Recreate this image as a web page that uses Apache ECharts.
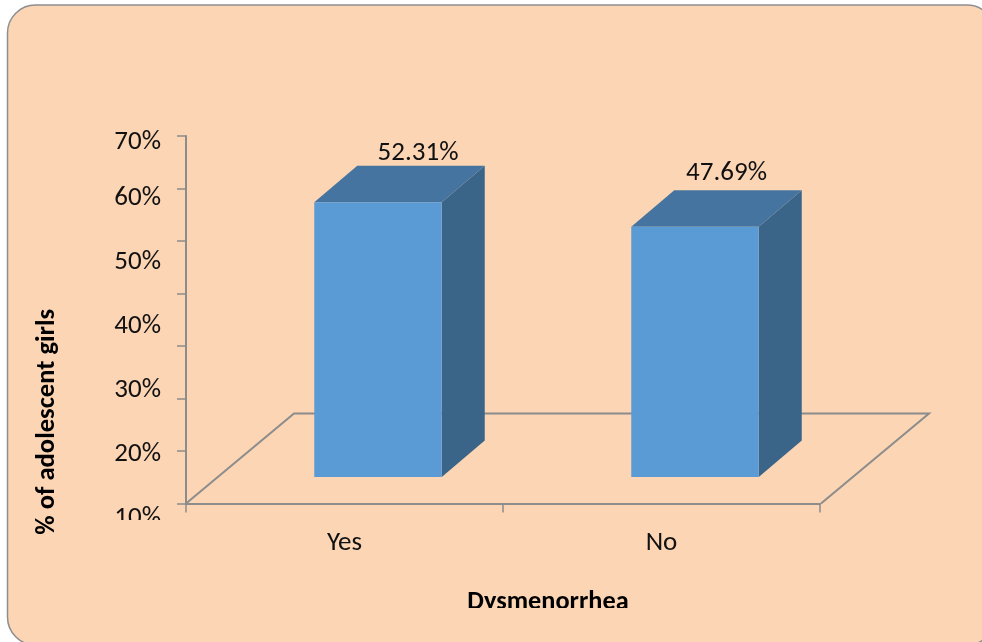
<!DOCTYPE html>
<html>
<head>
<meta charset="utf-8">
<style>html,body{margin:0;padding:0;background:#fff}#chart{width:982px;height:642px}</style>
<script src="https://cdn.jsdelivr.net/npm/echarts@6/dist/echarts.min.js"></script>
</head>
<body>
<div id="chart"></div>
<script>
// Prevalence of dysmenorrhea among adolescent girls
const categories = ['Yes', 'No'];
const percentages = [52.31, 47.69];
const tickLabels = [10, 20, 30, 40, 50, 60, 70];

const FONT = 'Carlito, Lato, "Open Sans", sans-serif';
const PANEL = '#FCD5B5';
const AXIS_GREY = '#8C8C8C';
const TEXT_SIZE = 27;

// Oblique projection of the 3D floor and of each bar
const FLOOR_DX = 108, FLOOR_DY = 90;
const BAR_SHIFT_X = 33.5, BAR_SHIFT_Y = 26.5;
const BAR_W = 127.5, BAR_DX = 43, BAR_DY = 36.5;
// Value labels sit above the top face of each bar
const LABEL_DX = [40, 31.5], LABEL_DY = [49.5, 53];

function renderFloor(params, api) {
  const cs = params.coordSys;
  const l = cs.x, r = cs.x + cs.width, b = cs.y + cs.height;
  return {
    type: 'polyline',
    z2: 0,
    shape: { points: [[l, b], [l + FLOOR_DX, b - FLOOR_DY], [r + FLOOR_DX + 1, b - FLOOR_DY], [r + 1, b]] },
    style: { fill: null, stroke: AXIS_GREY, lineWidth: 2 }
  };
}

function renderBar(params, api) {
  const i = params.dataIndex;
  const top = api.coord([api.value(0), api.value(1)]);
  const base = api.coord([api.value(0), 0]);
  const x0 = top[0] + BAR_SHIFT_X - BAR_W / 2, x1 = x0 + BAR_W;
  const yT = top[1] - BAR_SHIFT_Y, yB = base[1] - BAR_SHIFT_Y;
  return {
    type: 'group',
    children: [
      { type: 'polygon', shape: { points: [[x1, yT], [x1 + BAR_DX, yT - BAR_DY], [x1 + BAR_DX, yB - BAR_DY], [x1, yB]] },
        style: { fill: '#3A6488' } },
      { type: 'polygon', shape: { points: [[x0, yT], [x0 + BAR_DX, yT - BAR_DY], [x1 + BAR_DX, yT - BAR_DY], [x1, yT]] },
        style: { fill: '#4674A0' } },
      { type: 'rect', shape: { x: x0, y: yT, width: BAR_W, height: yB - yT },
        style: { fill: '#5B9BD5' } },
      { type: 'text', x: x0 + BAR_W / 2 + LABEL_DX[i], y: yT - LABEL_DY[i],
        style: { text: api.value(1).toFixed(2) + '%', fill: '#111', font: TEXT_SIZE + 'px ' + FONT, align: 'center', verticalAlign: 'middle' } }
    ]
  };
}

const chart = echarts.init(document.getElementById('chart'), null, { renderer: 'canvas' });
chart.setOption({
  animation: false,
  backgroundColor: '#fff',
  textStyle: { fontFamily: FONT },
  graphic: [
    { type: 'rect', z: -10, silent: true,
      shape: { x: 7.5, y: 5, width: 987.5, height: 640, r: 28 },
      style: { fill: PANEL, stroke: '#8E8E8E', lineWidth: 1.5 } },
    // the bottom tick label and the axis title are cut off by their text boxes
    { type: 'rect', z: 100, silent: true, shape: { x: 100, y: 520, width: 76, height: 14 }, style: { fill: PANEL } },
    { type: 'rect', z: 100, silent: true, shape: { x: 450, y: 608, width: 200, height: 14 }, style: { fill: PANEL } }
  ],
  grid: [
    { left: 186, top: 136, width: 634, height: 367.5 },
    // carries only the printed percentage labels
    { left: 186, top: 134, width: 634, height: 384.5 }
  ],
  xAxis: [
    { type: 'category', gridIndex: 0, data: categories,
      axisLine: { lineStyle: { color: AXIS_GREY, width: 2 } },
      axisTick: { show: true, length: 9, alignWithLabel: false, lineStyle: { color: AXIS_GREY, width: 1.5 } },
      axisLabel: { fontSize: TEXT_SIZE, color: '#111', margin: 26, fontFamily: FONT },
      name: 'Dysmenorrhea', nameLocation: 'middle', nameGap: 86,
      nameTextStyle: { fontSize: 26.3, fontWeight: 'bold', color: '#000', fontFamily: FONT, padding: [0, 0, 0, 90] } },
    { type: 'category', gridIndex: 1, data: categories, show: false }
  ],
  yAxis: [
    { type: 'value', gridIndex: 0, min: 0, max: 70, interval: 10,
      axisLine: { show: true, lineStyle: { color: AXIS_GREY, width: 2 } },
      axisTick: { show: true, length: 9, lineStyle: { color: AXIS_GREY, width: 1.5 } },
      axisLabel: { show: false }, splitLine: { show: false },
      name: '% of adolescent girls', nameLocation: 'middle', nameGap: 125, nameRotate: 90,
      nameTextStyle: { fontSize: 26.6, fontWeight: 'bold', color: '#000', fontFamily: FONT, padding: [0, 204, 0, 0] } },
    { type: 'value', gridIndex: 1, min: 10, max: 70, interval: 10,
      axisLine: { show: false }, axisTick: { show: false }, splitLine: { show: false },
      axisLabel: { fontSize: TEXT_SIZE, color: '#111', margin: 25, fontFamily: FONT,
        customValues: tickLabels.map(v => v === 70 ? 68.7 : v),
        formatter: v => Math.round(v / 10) * 10 + '%' } }
  ],
  series: [
    { type: 'custom', xAxisIndex: 0, yAxisIndex: 0, z: 1, silent: true, renderItem: renderFloor, data: [[0, 0]] },
    { type: 'custom', xAxisIndex: 0, yAxisIndex: 0, z: 2, silent: true, renderItem: renderBar,
      encode: { x: 0, y: 1 }, data: categories.map((c, i) => [i, percentages[i]]) }
  ]
});
</script>
</body>
</html>
